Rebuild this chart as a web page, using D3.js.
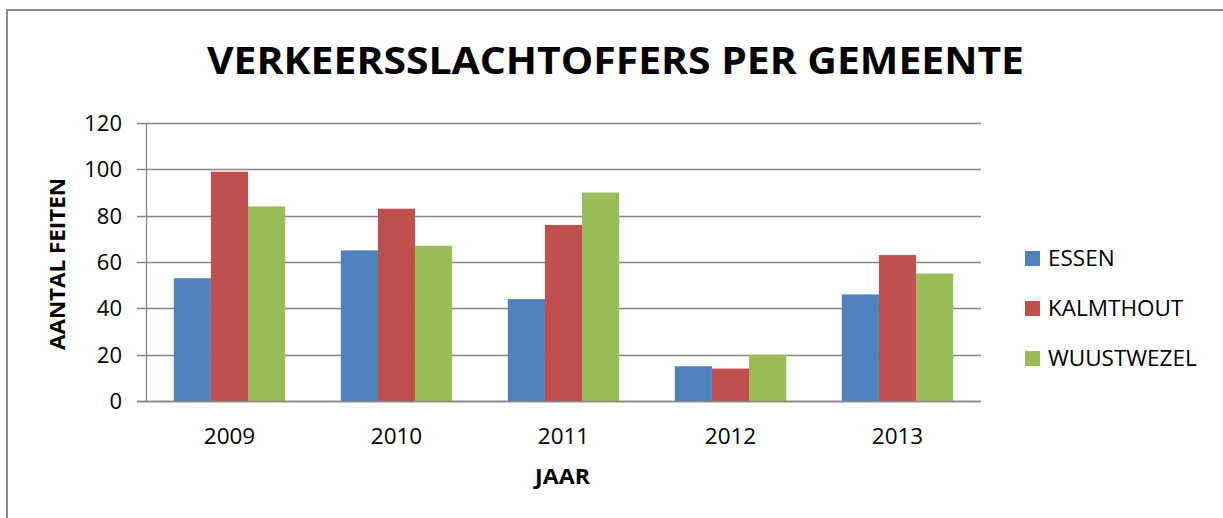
<!DOCTYPE html>
<html><head><meta charset="utf-8">
<script src="https://cdn.jsdelivr.net/npm/d3@7"></script>
<style>html,body{margin:0;padding:0;background:#fff;overflow:hidden}svg{display:block}</style>
</head><body><svg id="c" width="1223" height="518"></svg>
<script>
const years = ["2009","2010","2011","2012","2013"];
const seriesNames = ["ESSEN","KALMTHOUT","WUUSTWEZEL"];
const essen = [53,65,44,15,46];
const kalmthout = [99,83,76,14,63];
const wuustwezel = [84,67,90,20,55];
const yTicks = [0,20,40,60,80,100,120];
const colors = ["#4f81bd","#c0504d","#9bbb59"];
const titleText = "VERKEERSSLACHTOFFERS PER GEMEENTE";
const yTitle = "AANTAL FEITEN";
const xTitle = "JAAR";

const values = [essen,kalmthout,wuustwezel];
const svg = d3.select("#c");
const font = "'Open Sans', 'Liberation Sans', sans-serif";

// frame: only top and left edges visible (chart extends past the picture)
svg.append("path").attr("d","M7,518 L7,10 L1223,10")
  .attr("fill","none").attr("stroke","#888").attr("stroke-width",2);

const L=146, R=981, T=123, B=401;
const x0 = d3.scaleBand().domain(years).range([L,R]).paddingInner(0).paddingOuter(0);
const bw = x0.bandwidth()/4.5;
const y = d3.scaleLinear().domain([0,120]).range([B,T]);

// gridlines + tick marks
svg.append("g").selectAll("line").data(yTicks).join("line")
  .attr("x1",L-9).attr("x2",R).attr("y1",d=>Math.round(y(d))+0.5).attr("y2",d=>Math.round(y(d))+0.5)
  .attr("stroke","#878787").attr("stroke-width",1.3);
// y axis line
svg.append("line").attr("x1",L+0.5).attr("x2",L+0.5).attr("y1",T).attr("y2",B+1)
  .attr("stroke","#878787").attr("stroke-width",1.3);

// bars
years.forEach((yr,i)=>{
  values.forEach((arr,s)=>{
    svg.append("rect")
      .attr("x", x0(yr) + bw*0.75 + s*bw)
      .attr("y", y(arr[i]))
      .attr("width", bw)
      .attr("height", y(0)-y(arr[i]))
      .attr("fill", colors[s]);
  });
});
// baseline on top
svg.append("line").attr("x1",L-9).attr("x2",R).attr("y1",Math.round(y(0))+0.5).attr("y2",Math.round(y(0))+0.5)
  .attr("stroke","#878787").attr("stroke-width",1.3);

// y tick labels
svg.append("g").selectAll("text").data(yTicks).join("text")
  .attr("x",122).attr("y",d=>y(d)+8).attr("text-anchor","end")
  .attr("font-family",font).attr("font-size",22).attr("fill","#000").text(d=>d);

// x tick labels
svg.append("g").selectAll("text").data(years).join("text")
  .attr("x",d=>x0(d)+x0.bandwidth()/2).attr("y",444).attr("text-anchor","middle")
  .attr("font-family",font).attr("font-size",22.5).attr("fill","#000").text(d=>d);

// title
svg.append("text").attr("x",615.5).attr("y",74).attr("text-anchor","middle")
  .attr("font-family",font).attr("font-weight","bold").attr("font-size",38)
  .attr("textLength",817).attr("lengthAdjust","spacingAndGlyphs").text(titleText);

// axis titles
svg.append("text").attr("transform","translate(65,264) rotate(-90)").attr("text-anchor","middle")
  .attr("font-family",font).attr("font-weight","bold").attr("font-size",22)
  .attr("textLength",172).attr("lengthAdjust","spacingAndGlyphs").text(yTitle);
svg.append("text").attr("x",562.5).attr("y",484).attr("text-anchor","middle")
  .attr("font-family",font).attr("font-weight","bold").attr("font-size",21)
  .attr("textLength",55).attr("lengthAdjust","spacingAndGlyphs").text(xTitle);

// legend
const ly = [258,308,358];
seriesNames.forEach((n,i)=>{
  svg.append("rect").attr("x",1025).attr("y",ly[i]-7).attr("width",15).attr("height",15).attr("fill",colors[i]);
  svg.append("text").attr("x",1048).attr("y",ly[i]+8).attr("font-family",font).attr("font-size",22.5).text(n);
});
</script></body></html>
